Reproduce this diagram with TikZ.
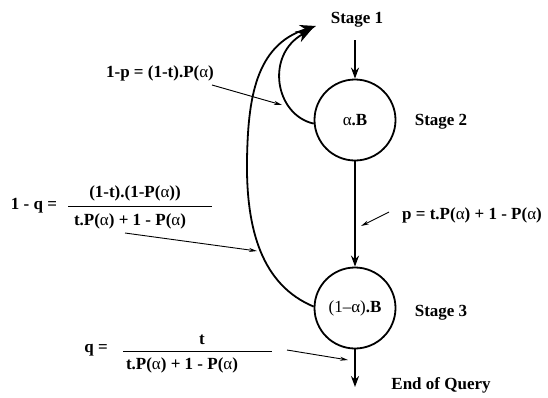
\documentclass[tikz,border=0pt]{standalone}
\usepackage{fontspec}
\setmainfont{Liberation Serif}
\usetikzlibrary{arrows.meta}
\newcommand{\alf}{{\mdseries α}}
\begin{document}
\begin{tikzpicture}[x=1pt, y=-1pt,
  every node/.style={font=\bfseries\fontsize{17}{19}\selectfont, inner sep=1pt},
  flow/.style={line width=1.8pt, -{Stealth[length=11pt,width=8pt]}},
  loopback/.style={line width=1.8pt, -{Stealth[length=16pt,width=12pt,inset=5pt]}},
  pointer/.style={line width=0.9pt, -{Stealth[length=8pt,width=4pt]}},
  stagecirc/.style={draw, circle, line width=1.8pt, minimum size=81pt, inner sep=0pt}]
  \useasboundingbox (0,0) rectangle (548,397);
  % stages
  \node (st1) at (357,20) {Stage 1};
  \node[stagecirc] (s2) at (355,120) {\alf.B};
  \node[stagecirc] (s3) at (355,308) {{\mdseries (1–α)}.B};
  \node (st2) at (441,122) {Stage 2};
  \node (st3) at (441,313) {Stage 3};
  \node (eoq) at (441,385) {End of Query};
  \coordinate (in1) at (355,40);
  \coordinate (out1) at (355,387);
  \draw[flow] (in1) -- (s2);
  \draw[flow] (s2) -- (s3);
  \draw[flow] (s3) -- (out1);
  % back to stage 1
  \coordinate (back1) at (312,29);
  \coordinate (back2) at (316,26);
  \draw[loopback] (s2.185) .. controls (275,115) and (265,55) .. (back1);
  \draw[loopback] (s3.178) .. controls (262,285) and (246,230) .. (247,160)
    .. controls (248,100) and (255,45) .. (back2);
  % probabilities
  \node (lp1) at (160,73) {1-p = (1-t).P(\alf)};
  \coordinate (lp1a) at (212,85);
  \coordinate (lp1b) at (282,105);
  \draw[pointer] (lp1a) -- (lp1b);
  \node (lq1) at (34,206) {1 - q =};
  \node (lq1n) at (135,193) {(1-t).(1-P(\alf))};
  \node (lq1d) at (130,221) {t.P(\alf) + 1 - P(\alf)};
  \draw[line width=0.9pt] (68,206) -- (212,206);
  \coordinate (lq1a) at (125,233);
  \coordinate (lq1b) at (257,251);
  \draw[pointer] (lq1a) -- (lq1b);
  \node (lp) at (472,215) {p = t.P(\alf) + 1 - P(\alf)};
  \coordinate (lpa) at (389,212);
  \coordinate (lpb) at (361,226);
  \draw[pointer] (lpa) -- (lpb);
  \node (lq) at (96,350) {q =};
  \node (lqn) at (202,340) {t};
  \node (lqd) at (182,365) {t.P(\alf) + 1 - P(\alf)};
  \draw[line width=0.9pt] (123,351) -- (272,351);
  \coordinate (lqa) at (287,350);
  \coordinate (lqb) at (348,360);
  \draw[pointer] (lqa) -- (lqb);
\end{tikzpicture}
\end{document}
